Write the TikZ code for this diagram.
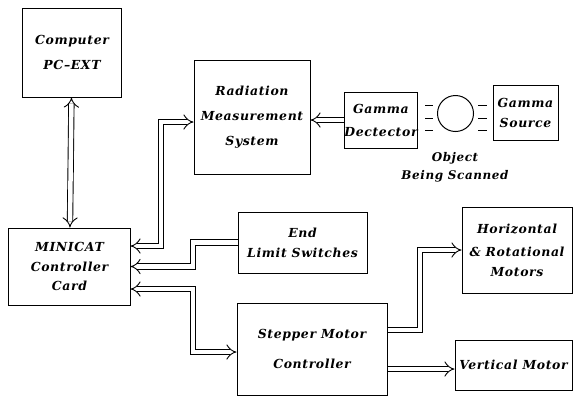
\documentclass[tikz,border=0pt]{standalone}
\usepackage{fontspec}
\setmainfont{DejaVu Serif}[LetterSpace=5]
\usetikzlibrary{arrows.meta,positioning}
\begin{document}
\begin{tikzpicture}[x=1bp, y=-1bp,
    unit/.style={draw, line width=1bp, align=center, inner sep=0pt, font=\bfseries\itshape\fontsize{12.5}{20}\selectfont},
    link/.style={double, double distance=4.5bp, line width=0.9bp, line join=miter, -{Implies}},
    twoway/.style={link, {Implies}-{Implies}},
    note/.style={align=center, font=\bfseries\itshape\fontsize{12}{18}\selectfont}
]
\useasboundingbox (0,0) rectangle (573,396);
% blocks
\node[unit, minimum width=98bp, minimum height=89bp] (comp) at (72,52.5) {Computer\\[5bp]PC--EXT};
\node[unit, minimum width=116bp, minimum height=114bp] (rms) at (252,117) {Radiation\\[5bp]Measurement\\[5bp]System};
\node[unit, minimum width=72bp, minimum height=56bp] (det) at (381,120) {Gamma\\[3bp]Dectector};
\node[unit, minimum width=65bp, minimum height=55bp] (src) at (525.5,112.5) {Gamma\\Source};
\node[circle, draw, line width=1bp, minimum size=36bp, inner sep=0pt] (obj) at (455.5,113.5) {};
\node[note] (objlbl) at (455,167) {Object\\Being Scanned};
\node[unit, minimum width=121bp, minimum height=77bp] (minicat) at (69.5,266.5) {MINICAT\\Controller\\Card};
\node[unit, minimum width=129bp, minimum height=61bp] (els) at (302.5,242.5) {End\\Limit Switches};
\node[unit, minimum width=110bp, minimum height=86bp] (hrm) at (517,250) {Horizontal\\[3bp]\& Rotational\\Motors};
\node[unit, minimum width=150bp, minimum height=92bp] (smc) at (312,349) {Stepper Motor\\[10bp]Controller};
\node[unit, minimum width=117bp, minimum height=50bp] (vm) at (513.5,365) {Vertical Motor};
% radiation beam marks
\foreach \y in {105,118,130} {
  \draw[line width=1bp] (425,\y) -- (433,\y);
  \draw[line width=1bp] (478,\y) -- (487,\y);
}
% bends
\coordinate (j1) at (161,246);
\coordinate (j2) at (161,122);
\coordinate (j3) at (193,266.5);
\coordinate (j4) at (193,289);
\coordinate (j5) at (193,352);
\coordinate (j6) at (420,330);
\coordinate (j7) at (420,369);
% connectors
\draw[twoway] (comp) -- (minicat);
\draw[twoway] (minicat.east |- j1) -- (j1) -- (j2) -- (rms.west |- j2);
\draw[link] (els.west) -- (els.west -| j3) -- (j3) -- (minicat.east);
\draw[twoway] (minicat.east |- j4) -- (j4) -- (j5) -- (smc.west |- j5);
\draw[link] (det.west) -- (det.west -| rms.east);
\draw[link] (smc.east |- j6) -- (j6) |- (hrm.west);
\draw[link] (smc.east |- j7) -- (vm.west |- j7);
\end{tikzpicture}
\end{document}
